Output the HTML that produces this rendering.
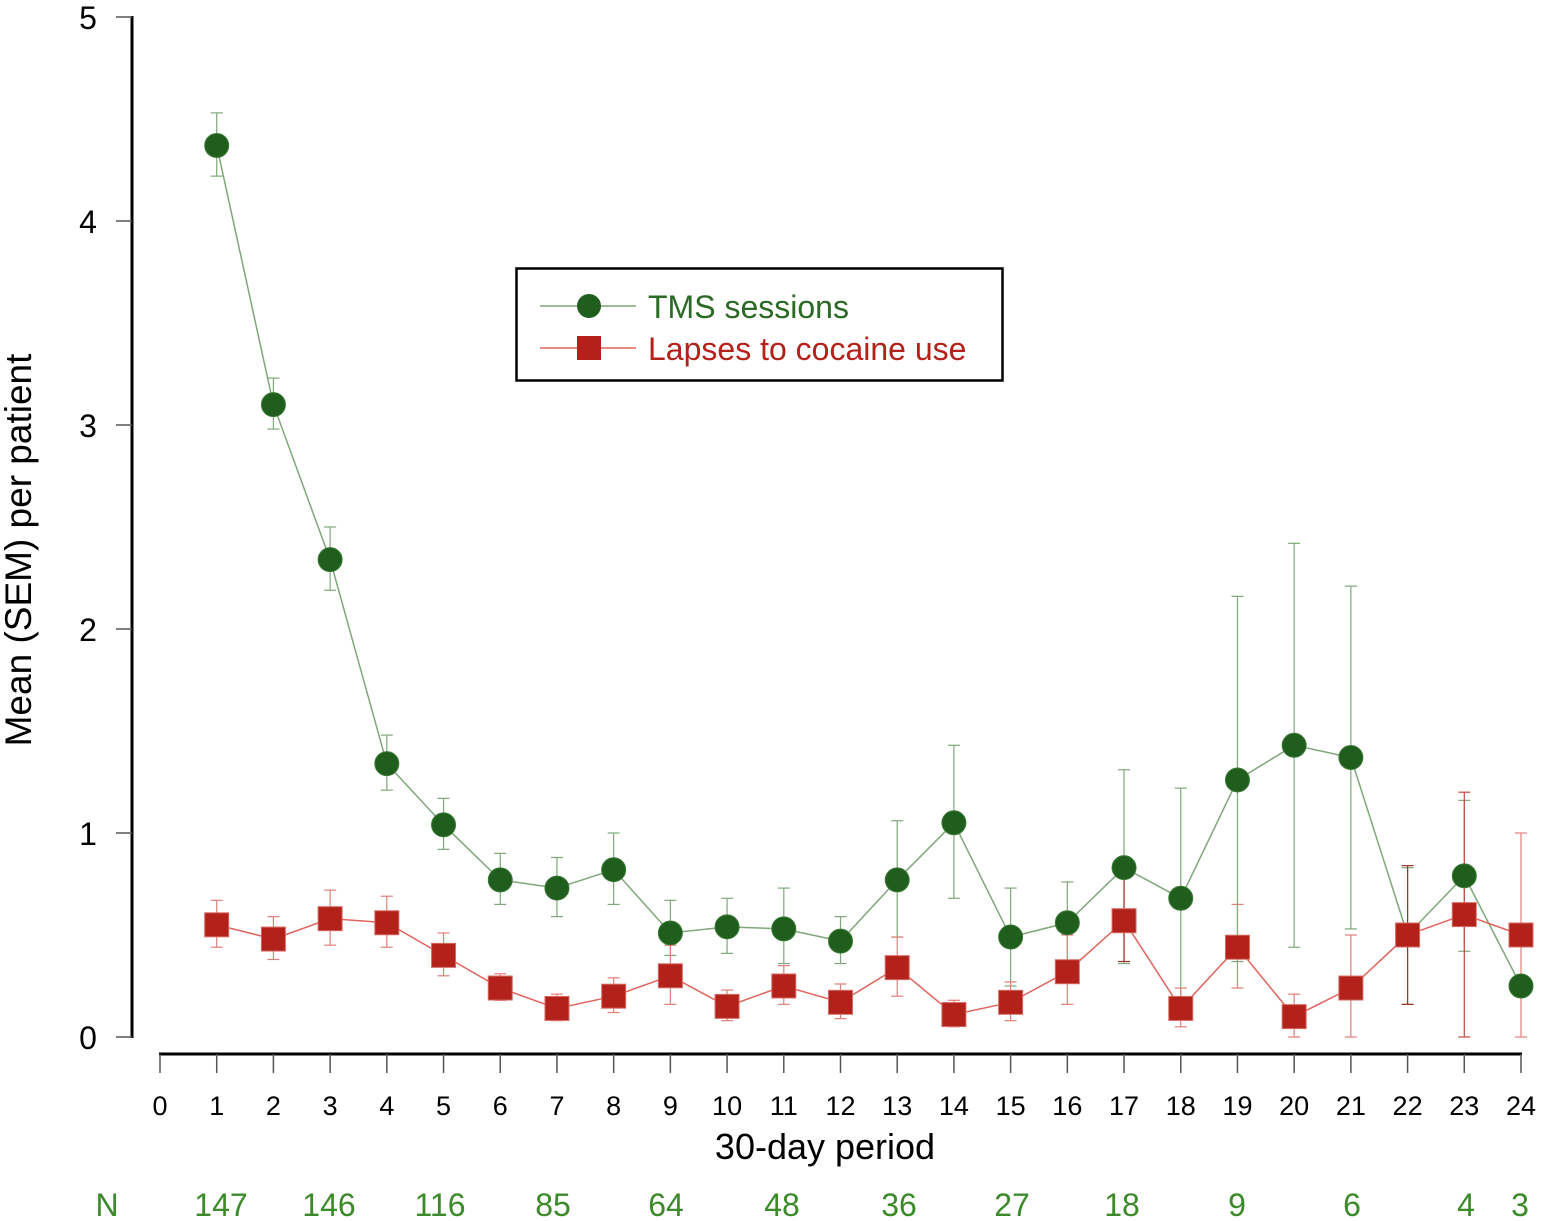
<!DOCTYPE html>
<html><head><meta charset="utf-8"><style>
html,body{margin:0;padding:0;background:#fff;}
svg{display:block;font-family:"Liberation Sans",Arial,sans-serif;}
</style></head><body>
<svg id="s" width="1541" height="1221" viewBox="0 0 1541 1221" xmlns="http://www.w3.org/2000/svg">
<rect width="1541" height="1221" fill="#fff"/>
<g id="g"></g>
</svg>
<script>
const X=i=>160+1361/24*i, Y=v=>1037-204*v;
const tms=[[4.37,4.22,4.53],[3.10,2.98,3.23],[2.34,2.19,2.50],[1.34,1.21,1.48],[1.04,0.92,1.17],[0.77,0.65,0.90],[0.73,0.59,0.88],[0.82,0.65,1.00],[0.51,0.40,0.67],[0.54,0.41,0.68],[0.53,0.36,0.73],[0.47,0.36,0.59],[0.77,0.49,1.06],[1.05,0.68,1.43],[0.49,0.25,0.73],[0.56,0.35,0.76],[0.83,0.36,1.31],[0.68,0.13,1.22],[1.26,0.37,2.16],[1.43,0.44,2.42],[1.37,0.53,2.21],[0.50,0.16,0.83],[0.79,0.42,1.16],[0.25,0.25,0.25]];
const lap=[[0.55,0.44,0.67],[0.48,0.38,0.59],[0.58,0.45,0.72],[0.56,0.44,0.69],[0.40,0.30,0.51],[0.24,0.18,0.31],[0.14,0.08,0.21],[0.20,0.12,0.29],[0.30,0.16,0.45],[0.15,0.08,0.23],[0.25,0.16,0.35],[0.17,0.09,0.26],[0.34,0.20,0.49],[0.11,0.05,0.18],[0.17,0.08,0.27],[0.32,0.16,0.50],[0.57,0.37,0.78],[0.14,0.05,0.24],[0.44,0.24,0.65],[0.10,0.00,0.21],[0.24,0.00,0.50],[0.50,0.16,0.84],[0.60,0.00,1.20],[0.50,0.00,1.00]];
let h='';
h+='<line x1="132" y1="16" x2="132" y2="1038" stroke="#000" stroke-width="3"/>';
for(let v=0;v<=5;v++){h+=`<line x1="116" y1="${Y(v)}" x2="132" y2="${Y(v)}" stroke="#555" stroke-width="1.5"/><text x="88" y="${Y(v)+12}" font-size="32" text-anchor="middle">${v}</text>`;}
h+='<line x1="159" y1="1054" x2="1522" y2="1054" stroke="#000" stroke-width="3"/>';
for(let i=0;i<=24;i++){h+=`<line x1="${X(i)}" y1="1054" x2="${X(i)}" y2="1073" stroke="#555" stroke-width="1.5"/><text x="${X(i)}" y="1115" font-size="27" text-anchor="middle">${i}</text>`;}
h+='<text x="825" y="1159" font-size="36" text-anchor="middle">30-day period</text>';
h+='<text transform="translate(31,550) rotate(-90)" font-size="37" text-anchor="middle">Mean (SEM) per patient</text>';
const N=[['N',107],['147',221],['146',329],['116',440],['85',553],['64',666],['48',782],['36',899],['27',1012],['18',1122],['9',1237],['6',1352],['4',1466],['3',1520]];
N.forEach(([t,x])=>h+=`<text x="${x}" y="1216" font-size="32" fill="#3c8a2a" text-anchor="middle">${t}</text>`);
function errs(d,col,ic){d.forEach((p,k)=>{const x=X(k+1);if(p[1]==p[2])return;const c=ic&&ic[k]?ic[k]:col;
h+=`<line x1="${x}" y1="${Y(p[1])}" x2="${x}" y2="${Y(p[2])}" stroke="${c}" stroke-width="1.2"/>`;
[p[1],p[2]].forEach(v=>h+=`<line x1="${x-6}" y1="${Y(v)}" x2="${x+6}" y2="${Y(v)}" stroke="${c}" stroke-width="1.2"/>`);});}
errs(tms,'#7fa77a');errs(lap,'#e07f7a',{21:'#a0302a',16:'#a0302a',22:'#c04a44'});
h+=`<polyline fill="none" stroke="#7fa77a" stroke-width="1.5" points="${tms.map((p,k)=>X(k+1)+','+Y(p[0])).join(' ')}"/>`;
h+=`<polyline fill="none" stroke="#e0635c" stroke-width="1.5" points="${lap.map((p,k)=>X(k+1)+','+Y(p[0])).join(' ')}"/>`;
tms.forEach((p,k)=>h+=`<circle cx="${X(k+1)}" cy="${Y(p[0])}" r="12" fill="#1f5e1c" stroke="#3d7a38" stroke-width="1"/>`);
lap.forEach((p,k)=>h+=`<rect x="${X(k+1)-12}" y="${Y(p[0])-12}" width="24" height="24" fill="#b3221a" stroke="#d56b64" stroke-width="1"/>`);
h+='<rect x="516.5" y="268.5" width="486" height="112" fill="#fff" stroke="#000" stroke-width="2.5"/>';
h+='<line x1="540" y1="306" x2="636" y2="306" stroke="#7fa77a" stroke-width="1.5"/><circle cx="589" cy="306" r="12" fill="#1f5e1c"/>';
h+='<text x="648" y="318" font-size="32" fill="#2a6a24">TMS sessions</text>';
h+='<line x1="540" y1="348" x2="636" y2="348" stroke="#e0635c" stroke-width="1.5"/><rect x="577" y="336" width="24" height="24" fill="#b3221a"/>';
h+='<text x="648" y="360" font-size="32" fill="#b3221a">Lapses to cocaine use</text>';
document.getElementById('g').innerHTML=h;
</script>
</body></html>
